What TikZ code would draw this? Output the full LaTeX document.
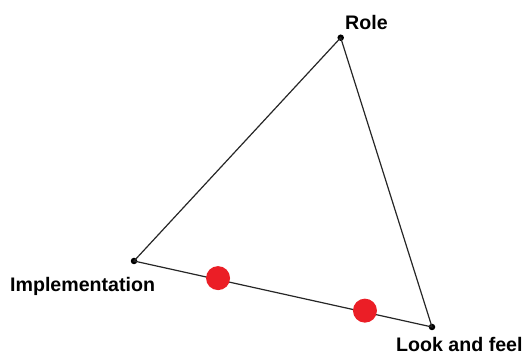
\documentclass[tikz,border=0pt]{standalone}
\usepackage{fontspec}
\setmainfont{Liberation Sans}
\usetikzlibrary{calc}
\begin{document}
\begin{tikzpicture}[x=1pt,y=1pt,
  vertex/.style={circle,fill=black,inner sep=0pt,minimum size=6.5pt},
  hot/.style={circle,fill=dotred,inner sep=0pt,minimum size=24pt},
  lbl/.style={font=\bfseries\fontsize{19.6}{24}\selectfont,inner sep=0pt,anchor=base west},
  edge/.style={line width=1.2pt,black!85}]
\definecolor{dotred}{RGB}{235,30,38}
\useasboundingbox (0,0) rectangle (527,355);
\node[vertex] (role) at (340.7,317.3) {};
\node[vertex] (impl) at (134,94) {};
\node[vertex] (look) at (432,28) {};
\draw[edge] (role.center) -- (impl.center) -- (look.center) -- cycle;
\node[hot] (r1) at ($(impl.center)!0.282!(look.center)+(0,1.5)$) {};
\node[hot] (r2) at ($(impl.center)!0.775!(look.center)+(0,1.5)$) {};
\node[lbl] (lrole) at (345,325) {Role};
\node[lbl] (limpl) at (10,63) {Implementation};
\node[lbl] (llook) at (396,3) {Look and feel};
\end{tikzpicture}
\end{document}
